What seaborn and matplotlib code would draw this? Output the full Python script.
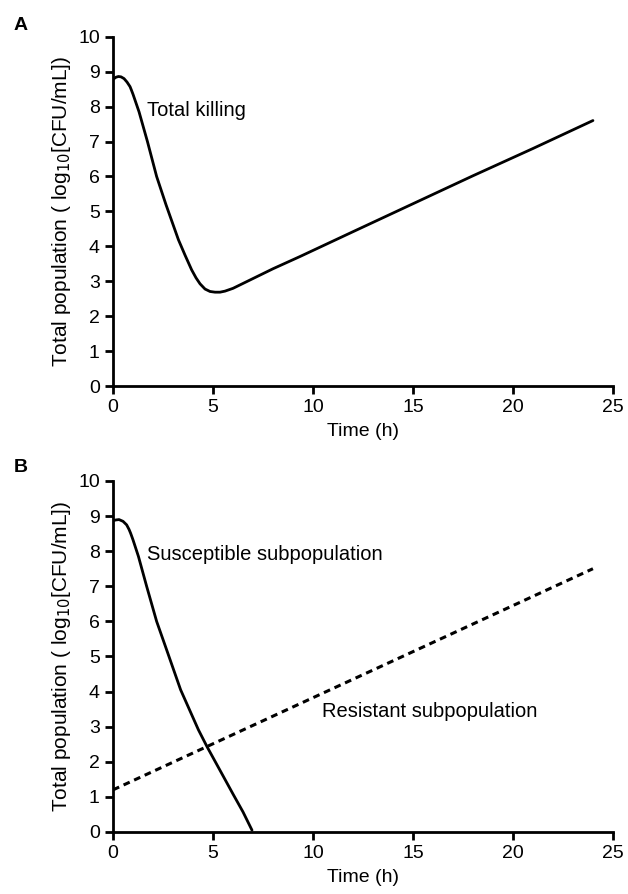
import numpy as np
import pandas as pd
import matplotlib.pyplot as plt
import seaborn as sns

sns.set_style("ticks")
plt.rcParams['font.family'] = ['Liberation Sans', 'DejaVu Sans']
plt.rcParams['text.color'] = 'black'

# panel A: total population
time_a = [0, 0.15, 0.27, 0.4, 0.55, 0.7, 0.85, 0.92, 1.0, 1.3, 1.72, 2.18, 2.65, 3.27, 3.6, 3.93, 4.15,
          4.35, 4.6, 4.85, 5.1, 5.35, 5.6, 6.0, 6.5, 7.0, 8.0, 9.35, 12, 15, 18, 21, 24]
total_a = [8.78, 8.84, 8.86, 8.85, 8.8, 8.7, 8.57, 8.47, 8.35, 7.85, 7.0, 6.0, 5.19, 4.19, 3.75, 3.33, 3.1,
           2.93, 2.78, 2.71, 2.69, 2.69, 2.72, 2.8, 2.94, 3.08, 3.36, 3.71, 4.42, 5.22, 6.02, 6.8, 7.6]

# panel B: subpopulations
time_s = [0, 0.15, 0.3, 0.5, 0.68, 0.8, 0.88, 0.95, 1.0, 1.27, 1.68, 2.18, 2.68, 3.38, 4.27, 4.7,
          5.5, 6.0, 6.5, 6.95]
suscept = [8.87, 8.89, 8.9, 8.85, 8.75, 8.62, 8.51, 8.4, 8.32, 7.85, 7.0, 6.0, 5.19, 4.05, 2.91, 2.43,
           1.6, 1.08, 0.57, 0.05]
time_r = [0, 24]
resist = [1.2, 7.5]

df_a = pd.DataFrame({"t": time_a, "y": total_a})
df_s = pd.DataFrame({"t": time_s, "y": suscept})
df_r = pd.DataFrame({"t": time_r, "y": resist})

fig = plt.figure(figsize=(6.28, 8.94), dpi=100)
ax1 = fig.add_axes([0.18, 0.568, 0.796, 0.391])
ax2 = fig.add_axes([0.18, 0.0694, 0.796, 0.3926])

sns.lineplot(data=df_a, x="t", y="y", ax=ax1, color="black", lw=2, sort=False)
sns.lineplot(data=df_s, x="t", y="y", ax=ax2, color="black", lw=2, sort=False)
sns.lineplot(data=df_r, x="t", y="y", ax=ax2, color="black", lw=2.2, sort=False, linestyle=(0, (2.2, 1.6)))

ax1.text(1.7, 7.9, "Total killing", fontsize=14.5, va="center")
ax2.text(1.7, 7.9, "Susceptible subpopulation", fontsize=14.5, va="center")
ax2.text(10.45, 3.43, "Resistant subpopulation", fontsize=14.5, va="center")

for ax in (ax1, ax2):
    ax.set_xlim(0, 25)
    ax.set_ylim(0, 10)
    ax.set_xticks([0, 5, 10, 15, 20, 25])
    ax.set_yticks(range(0, 11))
    ax.tick_params(labelsize=14, width=2, length=6, color="black", labelcolor="black")
    ax.set_xlabel("Time (h)", fontsize=14, color="black", labelpad=5)
    ax.set_ylabel("Total population ( log$_{10}$[CFU/mL])", fontsize=15, color="black", labelpad=4)
    for s in ("left", "bottom"):
        ax.spines[s].set_linewidth(2)
        ax.spines[s].set_color("black")
    sns.despine(ax=ax)

fig.text(0.022, 0.971, "A", fontsize=14, fontweight="bold", va="center")
fig.text(0.022, 0.477, "B", fontsize=14, fontweight="bold", va="center")

fig.savefig("out.png", dpi=100)
